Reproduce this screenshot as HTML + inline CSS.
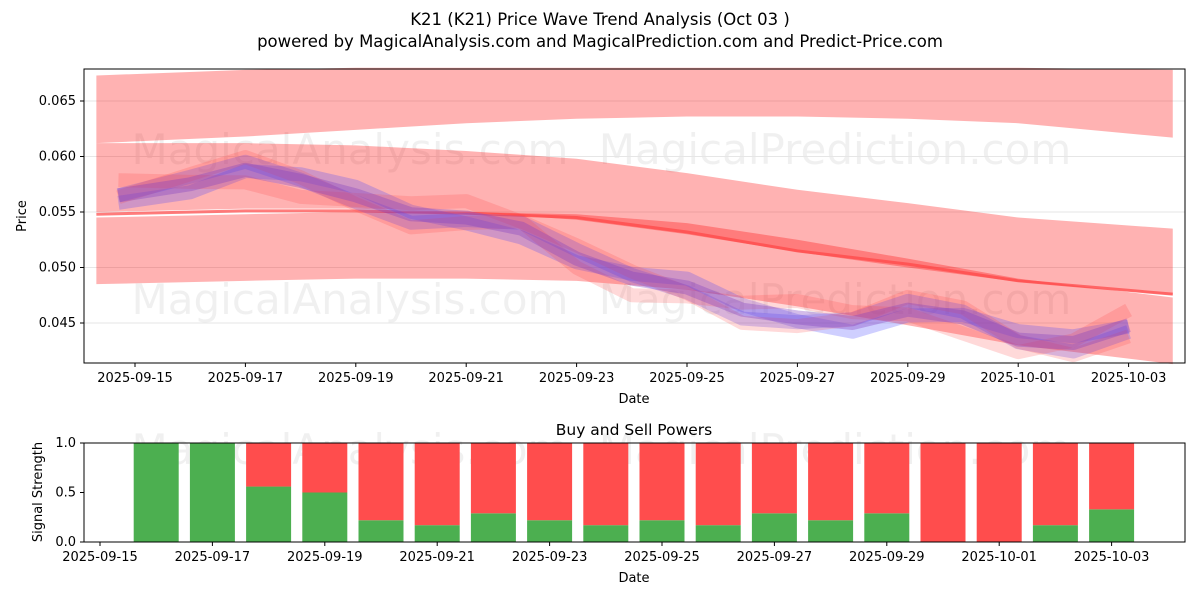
<!DOCTYPE html>
<html><head><meta charset="utf-8"><style>
body{margin:0;background:#fff;font-family:"Liberation Sans","DejaVu Sans",sans-serif}
svg text{font-family:"DejaVu Sans","Liberation Sans",sans-serif}
</style></head><body>
<svg id="c" width="1200" height="600" xmlns="http://www.w3.org/2000/svg">
<rect width="1200" height="600" fill="#fff"/>
<text x="600" y="25" font-size="16.5" text-anchor="middle">K21 (K21) Price Wave Trend Analysis (Oct 03 )</text>
<text x="600" y="47" font-size="16.5" text-anchor="middle">powered by MagicalAnalysis.com and MagicalPrediction.com and Predict-Price.com</text>
<g id="main"></g>
<g id="sub"></g>
</svg>
<script>
const dayLabels=["2025-09-15","2025-09-17","2025-09-19","2025-09-21","2025-09-23","2025-09-25","2025-09-27","2025-09-29","2025-10-01","2025-10-03"];
const priceTicks=[0.045,0.050,0.055,0.060,0.065];
const priceDays=[-0.3,1,2,3,4,5,6,7,8,9,10,11,12,13,14,15,16,17,18];
const priceVals=[0.0565,0.0575,0.0588,0.0578,0.0565,0.0548,0.0545,0.0535,0.0508,0.049,0.0482,0.0462,0.0455,0.045,0.0462,0.0455,0.0435,0.0432,0.0448];
const trendDays=[-0.7,2,4,6,8,10,12,14,16,18.8];
const bandTopHi=[0.0673,0.0678,0.068,0.068,0.068,0.068,0.068,0.068,0.068,0.0678];
const bandTopLo=[0.0612,0.0618,0.0624,0.063,0.0634,0.0636,0.0636,0.0634,0.063,0.0617];
const bandMidHi=[0.0612,0.0612,0.061,0.0605,0.0598,0.0585,0.057,0.0558,0.0545,0.0535];
const bandMidLo=[0.055,0.0553,0.0553,0.055,0.0543,0.053,0.0514,0.05,0.0487,0.0475];
const bandLowHi=[0.0545,0.0548,0.055,0.055,0.0548,0.054,0.0525,0.0508,0.049,0.0473];
const bandLowLo=[0.0485,0.0488,0.049,0.049,0.0488,0.048,0.0465,0.0448,0.043,0.0413];
const trendLine=[0.0548,0.0551,0.0551,0.0549,0.0545,0.0532,0.0515,0.0503,0.0488,0.0476];
const barDays=[1,2,3,4,5,6,7,8,9,10,11,12,13,14,15,16,17,18];
const buyVals=[1,1,0.56,0.5,0.22,0.17,0.29,0.22,0.17,0.22,0.17,0.29,0.22,0.29,0,0,0.17,0.33];
const sigTicks=[0,0.5,1.0];
const NS="http://www.w3.org/2000/svg";
const X0=84,X1=1185;
const x=d=>135+d*55.2;
const xs=d=>100+d*56.2;
const y=v=>323-(v-0.045)/0.005*55.5;
const ys=v=>542-v*99;
function el(p,t,a){const e=document.createElementNS(NS,t);for(const k in a)e.setAttribute(k,a[k]);p.appendChild(e);return e;}
const m=document.getElementById('main'),s=document.getElementById('sub');
[[350,150],[835,150],[350,300],[835,300],[350,450],[835,450]].forEach((p,i)=>{const t=el(i<4?m:s,'text',{x:p[0],y:p[1]+14,'font-size':42,'text-anchor':'middle',fill:'#000','fill-opacity':0.06});t.textContent=i%2?'MagicalPrediction.com':'MagicalAnalysis.com';});
priceTicks.forEach(v=>{const l=el(m,'line',{x1:X0,x2:X1,y1:y(v),y2:y(v),stroke:'#e6e6e6'});});
function band(hi,lo,name,op){let d='M'+trendDays.map((t,i)=>x(t)+','+y(hi[i])).join('L');for(let i=trendDays.length-1;i>=0;i--)d+='L'+x(trendDays[i])+','+y(lo[i]);const p=el(m,'path',{d:d+'Z',fill:'#ff0000','fill-opacity':op});}
band(bandTopHi,bandTopLo,'upper-band',0.3);
band(bandMidHi,bandMidLo,'middle-band',0.3);
band(bandLowHi,bandLowLo,'lower-band',0.3);
const tl=el(m,'polyline',{points:trendDays.map((t,i)=>x(t)+','+y(trendLine[i])).join(' '),fill:'none',stroke:'#ff4444','stroke-width':3,'stroke-opacity':0.7});

const offs=[[0.0008,'#4040ff',0.25],[-0.0008,'#4040ff',0.25],[0.0015,'#ff4040',0.2],[-0.0012,'#ff4040',0.2],[0,'#8040c0',0.35]];
offs.forEach((o,k)=>{const w=el(m,'polyline',{points:priceDays.map((d,i)=>x(d)+','+y(priceVals[i]+o[0]*Math.sin(i+k))).join(' '),fill:'none',stroke:o[1],'stroke-width':14,'stroke-opacity':o[2],'stroke-linejoin':'round'});});
el(m,'rect',{x:X0,y:69,width:X1-X0,height:294,fill:'none',stroke:'#000'});
priceTicks.forEach(v=>{el(m,'line',{x1:X0-4,x2:X0,y1:y(v),y2:y(v),stroke:'#000'});const t=el(m,'text',{x:X0-8,y:y(v)+4,'font-size':13,'text-anchor':'end'});t.textContent=v.toFixed(3);});
dayLabels.forEach((l,i)=>{const xx=x(i*2);el(m,'line',{x1:xx,x2:xx,y1:363,y2:367,stroke:'#000'});const t=el(m,'text',{x:xx,y:382,'font-size':13,'text-anchor':'middle'});t.textContent=l;});
let t=el(m,'text',{x:634,y:403,'font-size':13,'text-anchor':'middle'});t.textContent='Date';
t=el(m,'text',{x:26,y:216,'font-size':13,'text-anchor':'middle',transform:'rotate(-90 26 216)'});t.textContent='Price';
t=el(s,'text',{x:634,y:435,'font-size':15.5,'text-anchor':'middle'});t.textContent='Buy and Sell Powers';
barDays.forEach((d,i)=>{const bx=xs(d)-22.5;const g=el(s,'rect',{x:bx,y:ys(buyVals[i]),width:45,height:ys(0)-ys(buyVals[i]),fill:'#4caf50'});const r=el(s,'rect',{x:bx,y:ys(1),width:45,height:ys(buyVals[i])-ys(1),fill:'#ff4d4d'});});
el(s,'rect',{x:X0,y:443,width:X1-X0,height:99,fill:'none',stroke:'#000'});
sigTicks.forEach(v=>{el(s,'line',{x1:X0-4,x2:X0,y1:ys(v),y2:ys(v),stroke:'#000'});const t=el(s,'text',{x:X0-8,y:ys(v)+4,'font-size':13,'text-anchor':'end'});t.textContent=v.toFixed(1);});
dayLabels.forEach((l,i)=>{const xx=xs(i*2);el(s,'line',{x1:xx,x2:xx,y1:542,y2:546,stroke:'#000'});const t=el(s,'text',{x:xx,y:561,'font-size':13,'text-anchor':'middle'});t.textContent=l;});
t=el(s,'text',{x:634,y:582,'font-size':13,'text-anchor':'middle'});t.textContent='Date';
t=el(s,'text',{x:42,y:492,'font-size':13,'text-anchor':'middle',transform:'rotate(-90 42 492)'});t.textContent='Signal Strength';
</script>
</body></html>
